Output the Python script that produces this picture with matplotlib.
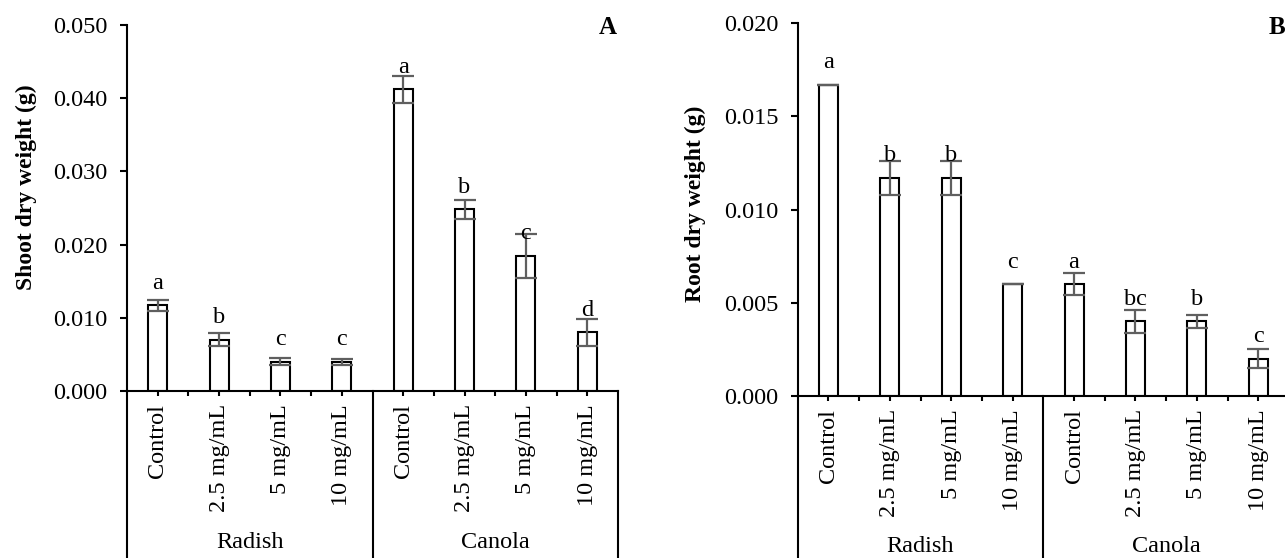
import matplotlib
matplotlib.use("Agg")
import matplotlib.pyplot as plt
import numpy as np
from matplotlib.ticker import FormatStrFormatter, FixedLocator

plt.rcParams['font.family'] = ['Liberation Serif', 'DejaVu Serif']

treatments = ["Control", "2.5 mg/mL", "5 mg/mL", "10 mg/mL"]
species = ["Radish", "Canola"]

shoot_mean = [0.0117, 0.0070, 0.0040, 0.0040, 0.0412, 0.0248, 0.0185, 0.0080]
shoot_err = [0.0008, 0.0009, 0.0005, 0.0004, 0.0018, 0.0013, 0.0030, 0.0019]
shoot_letters = ["a", "b", "c", "c", "a", "b", "c", "d"]

root_mean = [0.0167, 0.0117, 0.0117, 0.0060, 0.0060, 0.0040, 0.0040, 0.0020]
root_err = [0.0, 0.0009, 0.0009, 0.0, 0.0006, 0.0006, 0.00035, 0.0005]
root_letters = ["a", "b", "b", "c", "a", "bc", "b", "c"]

W, H = 1285, 558
fig = plt.figure(figsize=(W / 100, H / 100), dpi=100)

FS = 17.5
ERR_COLOR = "#5f5f5f"


def px_axes(left, top, right, bottom):
    return fig.add_axes([left / W, (H - bottom) / H, (right - left) / W, (bottom - top) / H])


def panel(ax, means, errs, letters, ymax, ystep, tag, tag_xy, group_label_y, ax_bottom_px, ax_h_px):
    n = len(means)
    x = np.arange(n)
    ax.bar(x, means, width=0.31, color="white", edgecolor="black", linewidth=1.5, zorder=2)
    ax.errorbar(x, means, yerr=errs, fmt="none", ecolor=ERR_COLOR, elinewidth=1.6,
                capsize=8, capthick=1.6, zorder=3)
    for xi, m, lab in zip(x, means, letters):
        ax.annotate(lab, (xi, m), xytext=(0, 12), textcoords="offset points",
                    ha="center", va="baseline", fontsize=FS, zorder=4)
    ax.set_xlim(-0.5, n - 0.5)
    ax.set_ylim(0, ymax)
    ax.set_yticks(np.arange(0, ymax + ystep / 2, ystep))
    ax.yaxis.set_major_formatter(FormatStrFormatter("%.3f"))
    ax.spines["top"].set_visible(False)
    ax.spines["right"].set_visible(False)
    ax.spines["left"].set_linewidth(1.5)
    ax.spines["bottom"].set_linewidth(1.5)
    ax.tick_params(axis="y", direction="out", length=5, width=1.5, pad=9, labelsize=FS)
    ax.set_xticks(x)
    ax.set_xticklabels(treatments * len(species), rotation=90, fontsize=FS)
    ax.xaxis.set_minor_locator(FixedLocator([k + 0.5 for k in range(n - 1) if (k + 1) % len(treatments) != 0]))
    ax.tick_params(axis="x", which="both", direction="out", length=3.5, width=1.5, pad=6)
    frac_bottom = -ax_bottom_px / ax_h_px
    trans = ax.get_xaxis_transform()
    per = len(treatments)
    for g in range(len(species) + 1):
        xb = g * per - 0.5
        ax.plot([xb, xb], [0, frac_bottom], transform=trans, color="black", lw=1.5, clip_on=False)
    for g, sp in enumerate(species):
        ax.text(g * per + (per - 1) / 2, group_label_y, sp, transform=trans,
                ha="center", va="center", fontsize=FS)
    fig.text(tag_xy[0] / W, 1 - tag_xy[1] / H, tag, fontsize=18, fontweight="bold",
             ha=tag_xy[2], va="center")
    return ax


# Panel A
axA = px_axes(127, 25, 618, 391)
panel(axA, shoot_mean, shoot_err, shoot_letters, 0.050, 0.010,
      "A", (617, 27, "right"), -0.415, 558 - 391, 391 - 25)
fig.text(26 / W, 1 - 187 / H, "Shoot dry weight (g)", rotation=90, fontsize=17,
         fontweight="bold", ha="center", va="center")

# Panel B
axB = px_axes(797.7, 23.3, 1289, 396)
panel(axB, root_mean, root_err, root_letters, 0.020, 0.005,
      "B", (1269, 27, "left"), -0.405, 558 - 396, 396 - 23.3)
fig.text(695 / W, 1 - 204 / H, "Root dry weight (g)", rotation=90, fontsize=17,
         fontweight="bold", ha="center", va="center")

fig.savefig("out.png", dpi=100)
